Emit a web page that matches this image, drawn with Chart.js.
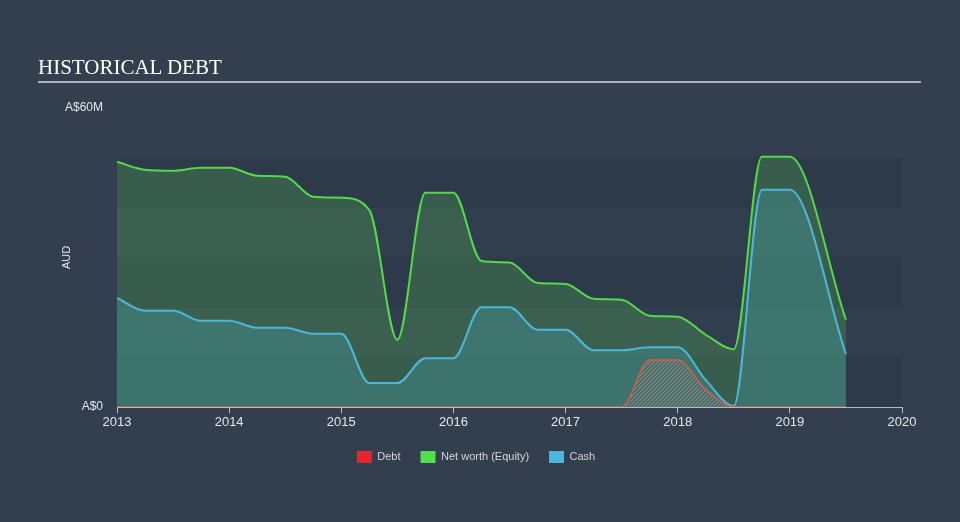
<!DOCTYPE html>
<html>
<head>
<meta charset="utf-8">
<script src="https://cdn.jsdelivr.net/npm/chart.js@4"></script>
<style>
  html, body { margin: 0; padding: 0; background: #333f4f; }
  #wrap { position: relative; width: 960px; height: 522px; }
  #debtChart { position: absolute; left: 0; top: 0; }
  #title { position: absolute; left: 38px; top: 55px; font-family: "Liberation Serif", serif; font-size: 21px; color: #ffffff; }
  #rule { position: absolute; left: 38px; top: 81px; width: 883px; height: 2px; background: #a9b0b9; }
</style>
</head>
<body>
<div id="wrap">
  <canvas id="debtChart" width="960" height="522"></canvas>
  <div id="title">HISTORICAL DEBT</div>
  <div id="rule"></div>
</div>
<script>
// 분기별 시점 (년)
const periods = [2013, 2013.25, 2013.5, 2013.75, 2014, 2014.25, 2014.5, 2014.75,
                 2015, 2015.25, 2015.5, 2015.75, 2016, 2016.25, 2016.5, 2016.75,
                 2017, 2017.25, 2017.5, 2017.75, 2018, 2018.25, 2018.5, 2018.75,
                 2019, 2019.5];
// 값 (A$ M)
const debt = [0, 0, 0, 0, 0, 0, 0, 0,
              0, 0, 0, 0, 0, 0, 0, 0,
              0, 0, 0, 9.4, 9.4, 3.5, 0, 0,
              0, 0];
const netWorth = [49.2, 47.6, 47.4, 48.0, 48.0, 46.4, 46.2, 42.2,
                  42.0, 39.5, 13.5, 43.0, 43.0, 29.3, 29.0, 24.9,
                  24.7, 21.7, 21.5, 18.3, 18.1, 14.5, 11.6, 50.2,
                  50.2, 17.5];
const cash = [21.9, 19.3, 19.3, 17.3, 17.3, 15.9, 15.9, 14.7,
              14.7, 4.8, 4.8, 9.8, 9.8, 20.0, 20.0, 15.5,
              15.5, 11.4, 11.4, 12.0, 12.0, 5.4, 0.2, 43.6,
              43.6, 10.6];
const xTicks = [2013, 2014, 2015, 2016, 2017, 2018, 2019, 2020];
const yTicks = [0, 60];

const toPoints = vals => vals.map((v, i) => ({ x: periods[i], y: v }));

// 빗금 패턴
const hatch = document.createElement('canvas');
hatch.width = 4; hatch.height = 4;
const hctx = hatch.getContext('2d');
hctx.fillStyle = 'rgba(120,100,100,0.25)';
hctx.fillRect(0, 0, 4, 4);
hctx.strokeStyle = 'rgba(200,165,155,0.55)';
hctx.lineWidth = 1;
hctx.beginPath();
hctx.moveTo(0, 4); hctx.lineTo(4, 0);
hctx.moveTo(-1, 1); hctx.lineTo(1, -1);
hctx.moveTo(3, 5); hctx.lineTo(5, 3);
hctx.stroke();
const hatchPattern = document.getElementById('debtChart').getContext('2d').createPattern(hatch, 'repeat');

// 배경 띠
const bands = {
  id: 'bands',
  afterLayout(chart) {
    // 범례를 살짝 오른쪽으로
    chart.legend.left += 25;
    chart.legend.right += 25;
  },
  beforeDraw(chart) {
    const { ctx, chartArea, scales } = chart;
    const y = scales.y;
    for (let v = 0; v < 50; v += 10) {
      const top = y.getPixelForValue(v + 10);
      const bot = y.getPixelForValue(v);
      ctx.fillStyle = (v / 10) % 2 === 0 ? '#2d3a4a' : '#313e4e';
      ctx.fillRect(chartArea.left, top, chartArea.right - chartArea.left, bot - top);
    }
  }
};

const legendItems = [
  { text: 'Debt', fillStyle: '#e8262a', datasetIndex: 0 },
  { text: 'Net worth (Equity)', fillStyle: '#4fe04c', datasetIndex: 1 },
  { text: 'Cash', fillStyle: '#4ab8d8', datasetIndex: 2 }
];

const data_debt = {
  datasets: [{
    label: 'Debt',
    data: toPoints(debt),
    borderColor: '#cc5f4a',
    backgroundColor: hatchPattern,
    borderWidth: 1.6,
    fill: 'origin',
    order: 0
  }, {
    label: 'Net worth (Equity)',
    data: toPoints(netWorth),
    borderColor: '#55d84a',
    backgroundColor: 'rgba(86,175,82,0.3)',
    borderWidth: 2,
    fill: 'origin',
    order: 2
  }, {
    label: 'Cash',
    data: toPoints(cash),
    borderColor: '#4bb8d8',
    backgroundColor: 'rgba(65,149,160,0.4)',
    borderWidth: 2,
    fill: 'origin',
    order: 1
  }]
};

const options_debt = {
  responsive: false,
  maintainAspectRatio: false,
  animation: false,
  layout: { padding: { top: 108, left: 0, right: 58, bottom: 49 } },
  elements: {
    point: { radius: 0, hoverRadius: 0 },
    line: { cubicInterpolationMode: 'monotone' }
  },
  scales: {
    x: {
      type: 'linear',
      min: 2013,
      max: 2020,
      afterFit: s => { s.height = 24; },
      afterBuildTicks: s => { s.ticks = xTicks.map(v => ({ value: v })); },
      ticks: {
        color: '#e2e5e9',
        font: { family: 'Liberation Sans', size: 13 },
        padding: 2,
        maxRotation: 0,
        callback: v => String(v)
      },
      grid: { drawOnChartArea: false, drawTicks: true, tickLength: 6, color: '#b4bcc6' },
      border: { display: true, color: '#b4bcc6', width: 1 }
    },
    y: {
      min: 0,
      max: 60,
      afterFit: s => { s.width = 117; },
      afterBuildTicks: s => { s.ticks = yTicks.map(v => ({ value: v })); },
      ticks: {
        color: '#e2e5e9',
        font: { family: 'Liberation Sans', size: 12 },
        padding: 14,
        callback: v => v === 0 ? 'A$0' : 'A$' + v + 'M'
      },
      grid: { display: false, drawTicks: false },
      border: { display: false },
      title: {
        display: true,
        text: 'AUD',
        color: '#e2e5e9',
        font: { family: 'Liberation Sans', size: 11 },
        padding: { top: 60, bottom: 0 }
      }
    }
  },
  plugins: {
    tooltip: { enabled: false },
    legend: {
      position: 'bottom',
      labels: {
        boxWidth: 15,
        boxHeight: 12,
        padding: 20,
        color: '#cfd4da',
        font: { family: 'Liberation Sans', size: 11 },
        generateLabels: () => legendItems.map(it => ({
          text: it.text,
          fillStyle: it.fillStyle,
          strokeStyle: it.fillStyle,
          fontColor: '#cfd4da',
          lineWidth: 0,
          hidden: false,
          datasetIndex: it.datasetIndex
        }))
      }
    }
  }
};

const ctx_debt = document.getElementById('debtChart').getContext('2d');
const myChart_debt = new Chart(ctx_debt, {
  type: 'line',
  data: data_debt,
  options: options_debt,
  plugins: [bands]
});
</script>
</body>
</html>
